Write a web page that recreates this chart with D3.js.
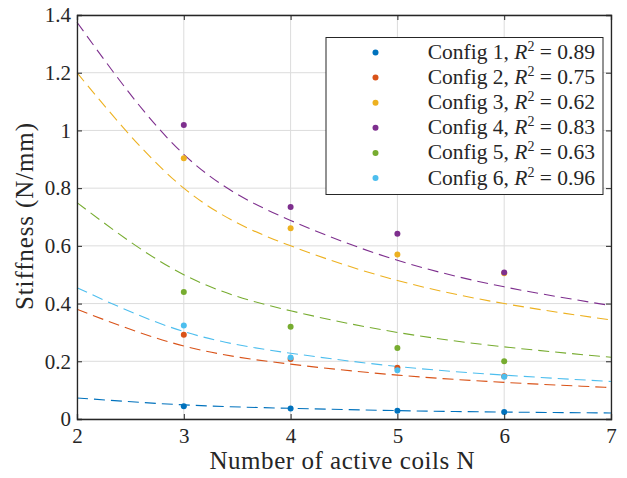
<!DOCTYPE html>
<html>
<head>
<meta charset="utf-8">
<script src="https://cdn.jsdelivr.net/npm/d3@7"></script>
<style>
  body { margin: 0; background: #fff; }
</style>
</head>
<body>
<div id="chart"></div>
<script>
// data
const coils = [3, 4, 5, 6];
const fitN = [2, 3, 4, 5, 6, 7];
const names = ["Config 1", "Config 2", "Config 3", "Config 4", "Config 5", "Config 6"];
const r2 = ["0.89", "0.75", "0.62", "0.83", "0.63", "0.96"];
const colors = ["#0072BD", "#D95319", "#EDB120", "#7E2F8E", "#77AC30", "#4DBEEE"];

const measured1 = [0.044, 0.036, 0.029, 0.024];
const measured2 = [0.292, 0.208, 0.178, 0.148];
const measured3 = [0.904, 0.661, 0.570, 0.505];
const measured4 = [1.019, 0.735, 0.642, 0.508];
const measured5 = [0.440, 0.320, 0.246, 0.200];
const measured6 = [0.324, 0.213, 0.169, 0.146];

const fit1 = [0.073, 0.049, 0.037, 0.029, 0.024, 0.021];
const fit2 = [0.380, 0.253, 0.190, 0.152, 0.127, 0.109];
const fit3 = [1.200, 0.800, 0.600, 0.480, 0.400, 0.343];
const fit4 = [1.375, 0.917, 0.688, 0.550, 0.458, 0.393];
const fit5 = [0.750, 0.500, 0.375, 0.300, 0.250, 0.214];
const fit6 = [0.455, 0.303, 0.228, 0.182, 0.152, 0.130];

const xTicks = [2, 3, 4, 5, 6, 7];
const yTicks = [0, 0.2, 0.4, 0.6, 0.8, 1, 1.2, 1.4];

const measured = [measured1, measured2, measured3, measured4, measured5, measured6];
const fits = [fit1, fit2, fit3, fit4, fit5, fit6];

const FONT = "'Liberation Serif', 'DejaVu Serif'";

// Set dimensions
const W = 627, H = 478;
const margin = { top: 15, right: 16, bottom: 59, left: 77 };
const width = W - margin.left - margin.right;
const height = H - margin.top - margin.bottom;

const svg = d3.select("#chart")
  .append("svg")
  .attr("width", W)
  .attr("height", H)
  .style("font-family", FONT);

const g = svg.append("g")
  .attr("transform", "translate(" + margin.left + "," + margin.top + ")");

// Set scales
const x = d3.scaleLinear().domain([2, 7]).range([0, width]);
const y = d3.scaleLinear().domain([0, 1.4]).range([height, 0]);

// Grid
g.append("g").selectAll("line")
  .data(xTicks)
  .enter().append("line")
  .attr("x1", d => x(d)).attr("x2", d => x(d))
  .attr("y1", 0).attr("y2", height)
  .attr("stroke", "#dcdcdc").attr("stroke-width", 1);

g.append("g").selectAll("line")
  .data(yTicks)
  .enter().append("line")
  .attr("y1", d => y(d)).attr("y2", d => y(d))
  .attr("x1", 0).attr("x2", width)
  .attr("stroke", "#dcdcdc").attr("stroke-width", 1);

// Fit curves + points
const line = d3.line()
  .x((d, i) => x(fitN[i]))
  .y(d => y(d))
  .curve(d3.curveNatural);

fits.forEach((f, k) => {
  g.append("path")
    .datum(f)
    .attr("d", line)
    .attr("fill", "none")
    .attr("stroke", colors[k])
    .attr("stroke-width", 1.1)
    .attr("stroke-dasharray", "11,6");
});

measured.forEach((m, k) => {
  g.append("g").selectAll("circle")
    .data(m)
    .enter().append("circle")
    .attr("cx", (d, i) => x(coils[i]))
    .attr("cy", d => y(d))
    .attr("r", 3)
    .attr("fill", colors[k]);
});

// Axes (ticks inside, box)
const axisColor = "#262626";
const xAxis = d3.axisBottom(x).tickValues(xTicks).tickSize(-5).tickPadding(9).tickFormat(d3.format("d"));
const yAxis = d3.axisLeft(y).tickValues(yTicks).tickSize(-5).tickPadding(6).tickFormat(d => d === 0 ? "0" : d3.format("~g")(d));

g.append("g")
  .attr("class", "x axis")
  .attr("transform", "translate(0," + height + ")")
  .call(xAxis);

g.append("g")
  .attr("class", "y axis")
  .call(yAxis);

g.append("g")
  .call(d3.axisTop(x).tickValues(xTicks).tickSize(-5).tickFormat(""));

g.append("g")
  .attr("transform", "translate(" + width + ",0)")
  .call(d3.axisRight(y).tickValues(yTicks).tickSize(-5).tickFormat(""));

g.selectAll(".domain, .tick line").attr("stroke", axisColor).attr("stroke-width", 1);
g.selectAll(".domain").attr("stroke-width", 1.3);
g.selectAll(".axis").attr("font-family", null).attr("font-size", null);
g.selectAll(".tick text").attr("fill", axisColor)
  .style("font-size", "21px").style("font-family", FONT);

// Legend
const lg = svg.append("g");
lg.append("rect")
  .attr("x", 326).attr("y", 37.5)
  .attr("width", 277).attr("height", 157)
  .attr("fill", "#fff").attr("stroke", axisColor).attr("stroke-width", 1);

names.forEach((n, k) => {
  const cy = 52.5 + k * 25.1;
  lg.append("circle")
    .attr("cx", 375.5).attr("cy", cy).attr("r", 3)
    .attr("fill", colors[k]);
  const t = lg.append("text")
    .attr("x", 595).attr("y", cy + 6.5)
    .attr("text-anchor", "end")
    .attr("fill", axisColor)
    .style("font-family", FONT)
    .style("font-size", "21.5px");
  t.append("tspan").text(n + ", ");
  t.append("tspan").style("font-style", "italic").text("R");
  t.append("tspan").attr("dy", -8).style("font-size", "14px").text("2");
  t.append("tspan").attr("dy", 8).text(" = " + r2[k]);
});

// Append axis labels
svg.append("text")
  .attr("text-anchor", "middle")
  .attr("transform", "translate(33,216.5)rotate(-90)")
  .attr("fill", axisColor)
  .style("font-family", FONT)
  .style("font-size", "25px")
  .attr("textLength", 187)
  .attr("lengthAdjust", "spacing")
  .text("Stiffness (N/mm)");

svg.append("text")
  .attr("text-anchor", "middle")
  .attr("x", 342)
  .attr("y", 469)
  .attr("fill", axisColor)
  .style("font-family", FONT)
  .style("font-size", "25px")
  .attr("textLength", 265)
  .attr("lengthAdjust", "spacing")
  .text("Number of active coils N");
</script>
</body>
</html>
